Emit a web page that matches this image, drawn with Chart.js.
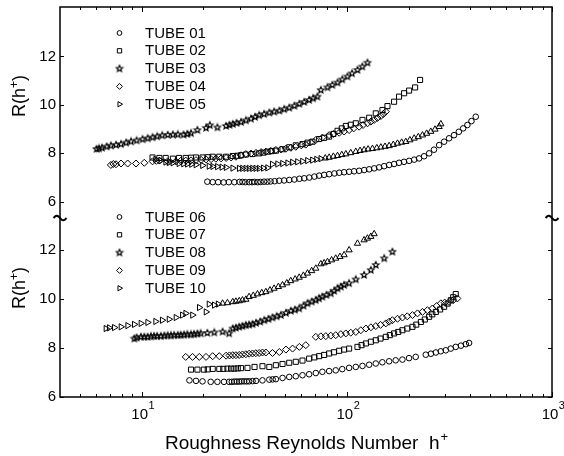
<!DOCTYPE html>
<html>
<head>
<meta charset="utf-8">
<script src="https://cdn.jsdelivr.net/npm/chart.js@4.4.1/dist/chart.umd.min.js"></script>
<style>
    html, body { margin: 0; padding: 0; background: #ffffff; }
</style>
</head>
<body>
<canvas id="main-chart" width="564" height="456"></canvas>
<script>
// [h+, R(h+)]
// upper panel
const tube01 = [[20.9,6.83],[22.2,6.81],[23.6,6.81],[25.1,6.80],[26.6,6.81],[28.3,6.81],[30.0,6.82],[31.0,6.82],[32.0,6.81],[33.4,6.81],[34.5,6.81],[35.5,6.82],[36.8,6.81],[38.0,6.82],[39.5,6.83],[41.0,6.83],[42.5,6.84],[44.5,6.85],[46.8,6.87],[49.5,6.88],[52.4,6.90],[55.5,6.92],[58.7,6.95],[62.0,6.97],[65.6,7.00],[69.5,7.04],[73.3,7.08],[77.5,7.11],[82.0,7.14],[87.0,7.17],[91.8,7.20],[97.0,7.22],[102.6,7.24],[108.5,7.26],[114.8,7.28],[121.5,7.31],[128.5,7.34],[136,7.38],[143.7,7.42],[152,7.47],[160.8,7.52],[170,7.56],[179.7,7.61],[190,7.65],[201.2,7.69],[213,7.74],[225,7.79],[238,7.88],[251.9,8.00],[266,8.15],[281.8,8.34],[298,8.48],[315,8.62],[333,8.75],[351.6,8.89],[369,9.03],[386.9,9.17],[405,9.33],[425,9.51]];
const tube02 = [[11.3,7.83],[12.2,7.81],[13.1,7.81],[14.2,7.78],[15.2,7.81],[16.4,7.81],[17.4,7.82],[18.4,7.83],[19.8,7.83],[21.0,7.84],[22.2,7.86],[23.9,7.86],[25.8,7.86],[27.8,7.89],[29.3,7.90],[30.5,7.92],[32.2,7.95],[34.7,7.97],[37.4,8.00],[39.2,8.03],[41.1,8.07],[43.0,8.09],[45.1,8.11],[48.6,8.17],[52.4,8.25],[56.4,8.33],[60.8,8.38],[64.3,8.44],[68.0,8.48],[73.3,8.59],[77.5,8.64],[82.0,8.69],[86,8.80],[90.1,8.93],[94.5,9.03],[98.9,9.13],[104.5,9.18],[110.6,9.24],[119.2,9.38],[128.5,9.47],[138.4,9.65],[149.2,9.79],[157.8,9.95],[170.0,10.13],[179.7,10.34],[190.2,10.48],[201.2,10.59],[215.2,10.72],[227.5,11.03]];
const tube03 = [[6.03,8.18],[6.2,8.20],[6.4,8.23],[6.75,8.28],[7.08,8.32],[7.5,8.35],[7.93,8.38],[8.4,8.44],[8.87,8.49],[9.45,8.53],[10.1,8.58],[10.7,8.62],[11.3,8.66],[11.9,8.70],[12.6,8.74],[13.4,8.76],[14.2,8.77],[15.0,8.78],[16.0,8.77],[16.7,8.80],[17.4,8.83],[18.7,8.96],[20.6,9.05],[21.5,9.16],[23.4,9.07],[25.8,9.13],[26.8,9.17],[27.8,9.21],[29.0,9.25],[30.5,9.29],[32.2,9.36],[34.1,9.43],[35.7,9.50],[37.4,9.57],[39.5,9.62],[41.9,9.68],[44.2,9.72],[46.9,9.76],[49.5,9.82],[52.4,9.88],[55.5,9.96],[58.7,10.04],[62,10.12],[65.5,10.20],[68.5,10.27],[71.9,10.34],[74.7,10.61],[80.5,10.72],[85,10.82],[90.1,10.92],[95,11.05],[100.7,11.17],[106,11.30],[112.7,11.44],[119,11.58],[126.1,11.74]];
const tube04 = [[7.08,7.52],[7.28,7.56],[7.5,7.55],[7.93,7.58],[8.55,7.58],[9.38,7.58],[10.3,7.61],[11.3,7.67],[11.8,7.69],[12.2,7.70],[13.4,7.67],[14.7,7.67],[15.5,7.69],[16.4,7.70],[17.4,7.71],[18.4,7.72],[19.5,7.73],[20.6,7.75],[21.8,7.76],[23.0,7.78],[24.4,7.79],[25.8,7.81],[27.3,7.83],[28.8,7.86],[30.5,7.92],[32.2,7.97],[34.1,7.99],[36.1,8.02],[38.2,8.05],[40.3,8.07],[42.6,8.10],[45.1,8.14],[47.7,8.16],[50.5,8.19],[53.4,8.23],[56.4,8.27],[60,8.33],[63.1,8.36],[66.5,8.45],[70.6,8.55],[76,8.65],[82.0,8.75],[86,8.80],[91.8,8.85],[97,8.90],[102.6,8.96],[108,9.03],[114.8,9.10],[120,9.17],[126.1,9.24],[131,9.31],[135.9,9.38],[141,9.46],[146.5,9.54],[150.5,9.62],[154.9,9.72]];
const tube05 = [[11.7,7.75],[12.4,7.70],[13.1,7.64],[13.6,7.62],[14.2,7.61],[15.2,7.58],[16.0,7.57],[16.7,7.56],[17.5,7.55],[18.4,7.53],[19.8,7.50],[21.3,7.47],[22.2,7.46],[23.4,7.45],[24.6,7.43],[25.8,7.42],[27.8,7.39],[29.9,7.38],[31.0,7.38],[32.2,7.38],[33.4,7.38],[34.7,7.38],[36.0,7.38],[37.4,7.38],[39.2,7.39],[41.1,7.40],[43.3,7.55],[46.0,7.56],[48.6,7.58],[51.5,7.60],[54.3,7.63],[57.5,7.65],[60.8,7.67],[64.3,7.70],[68.0,7.72],[71.2,7.75],[74.7,7.78],[78.5,7.80],[82.0,7.83],[86,7.87],[90.1,7.90],[94.5,7.94],[98.9,7.97],[104.5,8.02],[110.6,8.07],[116,8.11],[121.4,8.14],[127,8.17],[133.3,8.19],[140,8.22],[146.5,8.25],[153.5,8.28],[160.8,8.31],[168.5,8.36],[176.6,8.41],[185,8.45],[193.8,8.48],[203,8.55],[212.9,8.62],[223,8.68],[233.7,8.75],[245,8.82],[256.6,8.90],[269,8.99],[281.8,9.10],[287.3,9.21]];
// lower panel
const tube06 = [[17.1,6.68],[18.4,6.66],[19.8,6.64],[21.7,6.62],[23.4,6.62],[25.2,6.62],[26.7,6.62],[27.5,6.62],[28.3,6.63],[29.1,6.63],[29.9,6.63],[30.7,6.64],[31.6,6.64],[32.5,6.64],[33.4,6.64],[34.7,6.65],[36.1,6.66],[38.8,6.68],[41.9,6.71],[43.5,6.72],[45.1,6.73],[48.6,6.78],[52.4,6.82],[56.4,6.85],[60.8,6.89],[65.5,6.93],[70.6,6.98],[76.0,7.03],[82,7.06],[88.3,7.09],[95,7.14],[102.6,7.19],[110.6,7.23],[119.2,7.27],[128.5,7.32],[138.4,7.37],[149,7.42],[160.8,7.46],[173,7.50],[186.6,7.53],[201,7.59],[216.6,7.64],[242.6,7.73],[257,7.77],[271.6,7.82],[287,7.87],[303.5,7.91],[321,7.98],[339.6,8.05],[360,8.10],[380.2,8.16],[394.4,8.21]];
const tube07 = [[17.4,7.12],[18.7,7.12],[20.1,7.12],[21.0,7.13],[22.2,7.15],[23.9,7.15],[25.0,7.15],[26.2,7.16],[27.3,7.16],[28.3,7.16],[29.4,7.17],[30.5,7.18],[32.8,7.19],[35.5,7.23],[38.8,7.26],[41.9,7.23],[45.1,7.30],[48.6,7.35],[52.4,7.40],[56.4,7.44],[60.8,7.49],[65.5,7.57],[69.5,7.62],[73.3,7.67],[77.5,7.72],[82.0,7.78],[86.5,7.83],[91.8,7.89],[97,7.94],[102.6,7.98],[112.7,8.05],[118,8.12],[123.9,8.19],[131,8.26],[138.4,8.32],[146,8.39],[154.9,8.46],[162,8.53],[170,8.60],[178,8.66],[186.6,8.73],[197,8.80],[208.9,8.87],[218,8.96],[229.6,9.07],[240,9.17],[251.9,9.28],[261,9.38],[271.6,9.48],[285,9.58],[298,9.69],[310,9.82],[321.2,9.96],[330,10.08],[339.6,10.21]];
const tube08 = [[9.21,8.39],[9.45,8.43],[9.92,8.46],[10.3,8.46],[10.7,8.46],[11.1,8.48],[11.5,8.49],[11.9,8.49],[12.4,8.49],[12.9,8.51],[13.4,8.52],[13.9,8.52],[14.4,8.53],[15.0,8.53],[15.5,8.54],[16.1,8.55],[16.7,8.56],[17.4,8.56],[18.0,8.57],[18.7,8.59],[19.4,8.60],[20.9,8.62],[22.6,8.64],[24.8,8.67],[26.7,8.60],[27.8,8.80],[28.8,8.83],[29.9,8.87],[31.0,8.90],[32.2,8.94],[33.4,8.96],[34.7,8.98],[36.1,9.03],[37.8,9.08],[39.6,9.14],[41.5,9.19],[43.4,9.25],[45.5,9.30],[47.7,9.35],[50.5,9.44],[53.3,9.52],[55.8,9.57],[58.6,9.62],[61.5,9.73],[64.3,9.83],[67.4,9.90],[70.6,9.96],[73.2,10.03],[76.0,10.10],[79.5,10.17],[83.5,10.24],[86.8,10.34],[90.1,10.44],[93.5,10.51],[97.0,10.58],[102.6,10.65],[110.6,10.81],[121.4,10.99],[130.9,11.19],[138.4,11.40],[152.1,11.67],[166.8,11.94]];
const tube09 = [[16.4,7.64],[17.7,7.64],[19.1,7.64],[20.6,7.64],[22.2,7.67],[23.9,7.67],[25.8,7.69],[26.8,7.70],[27.8,7.71],[28.8,7.71],[29.9,7.72],[31.0,7.74],[32.2,7.75],[33.4,7.77],[34.7,7.78],[36.0,7.79],[37.4,7.80],[38.8,7.82],[40.3,7.82],[43.4,7.80],[46.9,7.84],[50.5,7.94],[54.4,7.98],[58.7,8.05],[63.1,8.12],[70.6,8.46],[74.7,8.48],[79.0,8.49],[83.5,8.51],[88.3,8.53],[93.5,8.57],[98.9,8.60],[104.5,8.63],[110.6,8.66],[117,8.73],[123.9,8.80],[131,8.85],[138.4,8.90],[146,8.95],[154.9,9.01],[160.8,9.08],[166.8,9.14],[176.6,9.20],[186.6,9.25],[197,9.30],[208.9,9.35],[221,9.42],[233.7,9.48],[247,9.55],[261.4,9.62],[274,9.72],[287.3,9.83],[300,9.86],[315,9.89],[330,9.96],[345.7,10.03]];
const tube10 = [[6.70,8.80],[6.95,8.83],[7.36,8.84],[7.93,8.87],[8.55,8.92],[9.21,8.97],[9.92,9.01],[10.7,9.05],[11.7,9.09],[12.6,9.14],[13.6,9.18],[14.7,9.25],[15.8,9.35],[16.4,9.42],[17.7,9.35],[19.1,9.66],[20.6,9.48],[21.3,9.80],[22.6,9.76],[23.6,9.80],[24.8,9.83],[26.2,9.85],[27.8,9.89],[28.8,9.91],[29.9,9.93],[31.0,9.96],[32.2,9.99],[33.4,10.10],[35.0,10.15],[36.7,10.21],[38.5,10.26],[40.3,10.30],[42.2,10.37],[44.2,10.44],[46.4,10.51],[48.6,10.58],[51.0,10.66],[53.3,10.75],[56.0,10.82],[58.6,10.89],[61.4,10.97],[64.3,11.06],[67.4,11.16],[70.6,11.26],[74.7,11.44],[77.5,11.48],[80.5,11.53],[84.3,11.60],[88.3,11.67],[92.6,11.74],[97.0,11.81],[102.6,12.01],[112.7,12.28],[121.4,12.42],[126,12.49],[130.9,12.56],[135.9,12.67]];

const topLabels = ["TUBE 01", "TUBE 02", "TUBE 03", "TUBE 04", "TUBE 05"];
const bottomLabels = ["TUBE 06", "TUBE 07", "TUBE 08", "TUBE 09", "TUBE 10"];

// axis values
const xMin = 4;
const xMax = 1000;
const xDecades = [10, 100, 1000];
const xMinorTicks = [5, 6, 7, 8, 9, 20, 30, 40, 50, 60, 70, 80, 90, 200, 300, 400, 500, 600, 700, 800, 900];
const yTickValues = [6, 8, 10, 12];
const topRange = [5.33, 14.04];
const bottomRange = [6, 13.32];

// triangles are drawn pointing right below these h+, upright above
const tube05TurnAt = 76;
const tube10TurnAt = 24;

const FONT = "'Liberation Sans', Arial, Helvetica, sans-serif";

function makeStar(r) {
    const s = Math.ceil(r * 2) + 3;
    const c = document.createElement("canvas");
    c.width = s;
    c.height = s;
    const g = c.getContext("2d");
    g.beginPath();
    for (let i = 0; i < 10; i++) {
        const a = -Math.PI / 2 + (i * Math.PI) / 5;
        const rr = i % 2 ? r * 0.45 : r;
        g.lineTo(s / 2 + rr * Math.cos(a), s / 2 + rr * Math.sin(a));
    }
    g.closePath();
    g.strokeStyle = "#000";
    g.lineWidth = 1.2;
    g.stroke();
    return c;
}
const starImg = makeStar(3.3);

const markers = [
    { pointStyle: "circle", radius: 2.8 },
    { pointStyle: "rect", radius: 3.6 },
    { pointStyle: starImg, radius: 3.5 },
    { pointStyle: "rectRot", radius: 3.5 },
    { pointStyle: "triangle", radius: 3.6 },
];

function toPoints(arr) {
    return arr.map((p) => ({ x: p[0], y: p[1] }));
}

function makeDataset(label, arr, axis, m, turnAt) {
    return {
        label: label,
        data: toPoints(arr),
        yAxisID: axis,
        showLine: false,
        pointStyle: m.pointStyle,
        pointRadius: m.radius,
        pointBorderWidth: 1,
        pointBorderColor: "#000",
        pointBackgroundColor: "rgba(0,0,0,0)",
        pointRotation: turnAt
            ? (c) => (c.raw && c.raw.x < turnAt ? 90 : 0)
            : 0,
    };
}

const topSeries = [tube01, tube02, tube03, tube04, tube05];
const bottomSeries = [tube06, tube07, tube08, tube09, tube10];

const datasets = [];
topSeries.forEach((s, i) => {
    datasets.push(makeDataset(topLabels[i], s, "yTop", markers[i], i === 4 ? tube05TurnAt : 0));
});
bottomSeries.forEach((s, i) => {
    datasets.push(makeDataset(bottomLabels[i], s, "yBot", markers[i], i === 4 ? tube10TurnAt : 0));
});

function drawTextWithSup(ctx, base, sup, x, y, size, supSize, rise) {
    ctx.font = size + "px " + FONT;
    const w1 = ctx.measureText(base).width;
    ctx.font = supSize + "px " + FONT;
    const w2 = ctx.measureText(sup).width;
    const x0 = x - (w1 + w2) / 2;
    ctx.textAlign = "left";
    ctx.font = size + "px " + FONT;
    ctx.fillText(base, x0, y);
    ctx.font = supSize + "px " + FONT;
    ctx.fillText(sup, x0 + w1 + 1, y - rise);
}

const framePlugin = {
    id: "frame",
    afterDraw(chart) {
        const ctx = chart.ctx;
        const a = chart.chartArea;
        const xs = chart.scales.x;
        const yt = chart.scales.yTop;
        const yb = chart.scales.yBot;
        ctx.save();
        ctx.strokeStyle = "#000";
        ctx.fillStyle = "#000";

        // box
        ctx.lineWidth = 1.5;
        ctx.strokeRect(a.left, a.top, a.right - a.left, a.bottom - a.top);

        // inward ticks
        ctx.lineWidth = 1;
        ctx.beginPath();
        [yt, yb].forEach((sc) => {
            yTickValues.forEach((v) => {
                const py = Math.round(sc.getPixelForValue(v)) + 0.5;
                ctx.moveTo(a.left, py);
                ctx.lineTo(a.left + 4, py);
                ctx.moveTo(a.right, py);
                ctx.lineTo(a.right - 4, py);
            });
        });
        xMinorTicks.forEach((v) => {
            const px = Math.round(xs.getPixelForValue(v)) + 0.5;
            ctx.moveTo(px, a.bottom);
            ctx.lineTo(px, a.bottom - 3);
            ctx.moveTo(px, a.top);
            ctx.lineTo(px, a.top + 3);
        });
        xDecades.forEach((v) => {
            const px = Math.round(xs.getPixelForValue(v)) + 0.5;
            ctx.moveTo(px, a.bottom);
            ctx.lineTo(px, a.bottom - 5);
            ctx.moveTo(px, a.top);
            ctx.lineTo(px, a.top + 5);
        });
        ctx.stroke();

        // axis break marks
        const yBreak = yt.bottom;
        ctx.lineWidth = 2;
        [a.left, a.right].forEach((cx) => {
            ctx.beginPath();
            for (let t = -6.5; t <= 6.5; t += 0.5) {
                const yy = yBreak - 2.2 * Math.sin((Math.PI * (t + 6.5)) / 6.5);
                if (t === -6.5) ctx.moveTo(cx + t, yy);
                else ctx.lineTo(cx + t, yy);
            }
            ctx.stroke();
        });

        // x tick labels 10^n
        ctx.textBaseline = "alphabetic";
        xDecades.forEach((v) => {
            const px = xs.getPixelForValue(v);
            const n = String(Math.round(Math.log10(v)));
            ctx.font = "15px " + FONT;
            const w = ctx.measureText("10").width;
            ctx.textAlign = "left";
            ctx.fillText("10", px - w / 2 - 2, 419);
            ctx.font = "11px " + FONT;
            ctx.fillText(n, px + w / 2 - 1.5, 409);
        });

        // x title
        drawTextWithSup(ctx, "Roughness Reynolds Number  h", "+", (a.left + a.right) / 2, 449, 19, 13, 8);

        // y titles
        [96, 288].forEach((yc) => {
            ctx.save();
            ctx.translate(25, yc);
            ctx.rotate(-Math.PI / 2);
            ctx.font = "18px " + FONT;
            const w1 = ctx.measureText("R(h").width;
            ctx.font = "12px " + FONT;
            const w2 = ctx.measureText("+").width;
            ctx.font = "18px " + FONT;
            const w3 = ctx.measureText(")").width;
            const x0 = -(w1 + w2 + w3) / 2;
            ctx.textAlign = "left";
            ctx.fillText("R(h", x0, 0);
            ctx.font = "12px " + FONT;
            ctx.fillText("+", x0 + w1, -7);
            ctx.font = "18px " + FONT;
            ctx.fillText(")", x0 + w1 + w2, 0);
            ctx.restore();
        });

        // legends inside the two panels
        const drawLegend = (labels, startIdx, y0) => {
            labels.forEach((lab, i) => {
                const ds = chart.data.datasets[startIdx + i];
                const y = y0 + i * 17.8;
                const m = markers[i];
                ctx.lineWidth = 1;
                ctx.strokeStyle = "#000";
                ctx.fillStyle = "rgba(0,0,0,0)";
                Chart.helpers.drawPoint(ctx, {
                    pointStyle: m.pointStyle,
                    radius: m.radius * 0.85,
                    rotation: i === 4 ? 90 : 0,
                    borderWidth: 1,
                }, 119.5, y);
                ctx.fillStyle = "#000";
                ctx.font = "15px " + FONT;
                ctx.textAlign = "left";
                ctx.textBaseline = "middle";
                ctx.fillText(ds.label, 145, y + 0.5);
            });
        };
        drawLegend(topLabels, 0, 33);
        drawLegend(bottomLabels, 5, 217);

        ctx.restore();
    },
};

// fixed axis boxes so the plot frame lands where the original has it
const fixY = (s) => {
    s.width = 60;
    s.paddingTop = 0;
    s.paddingBottom = 0;
};
const fixX = (s) => {
    s.height = 59;
    s.paddingLeft = 0;
    s.paddingRight = 0;
};

new Chart(document.getElementById("main-chart"), {
    type: "scatter",
    data: { datasets: datasets },
    options: {
        responsive: false,
        animation: false,
        events: [],
        layout: { padding: { top: 7, right: 12, bottom: 0, left: 0 } },
        scales: {
            x: {
                type: "logarithmic",
                position: "bottom",
                min: xMin,
                max: xMax,
                grid: { display: false, drawTicks: false },
                border: { display: false },
                ticks: { display: false },
                afterFit: fixX,
            },
            yBot: {
                type: "linear",
                position: "left",
                stack: "panels",
                stackWeight: 178.7,
                weight: 0,
                min: bottomRange[0],
                max: bottomRange[1],
                grid: { display: false, drawTicks: false },
                border: { display: false },
                ticks: { color: "#000", padding: 4, font: { family: FONT, size: 15 } },
                afterBuildTicks: (s) => { s.ticks = yTickValues.map((v) => ({ value: v })); },
                afterFit: fixY,
            },
            yTop: {
                type: "linear",
                position: "left",
                stack: "panels",
                stackWeight: 210.7,
                weight: 1,
                min: topRange[0],
                max: topRange[1],
                grid: { display: false, drawTicks: false },
                border: { display: false },
                ticks: { color: "#000", padding: 4, font: { family: FONT, size: 15 } },
                afterBuildTicks: (s) => { s.ticks = yTickValues.map((v) => ({ value: v })); },
                afterFit: fixY,
            },
        },
        plugins: {
            legend: { display: false },
            tooltip: { enabled: false },
            title: { display: false },
        },
    },
    plugins: [framePlugin],
});
</script>
</body>
</html>
